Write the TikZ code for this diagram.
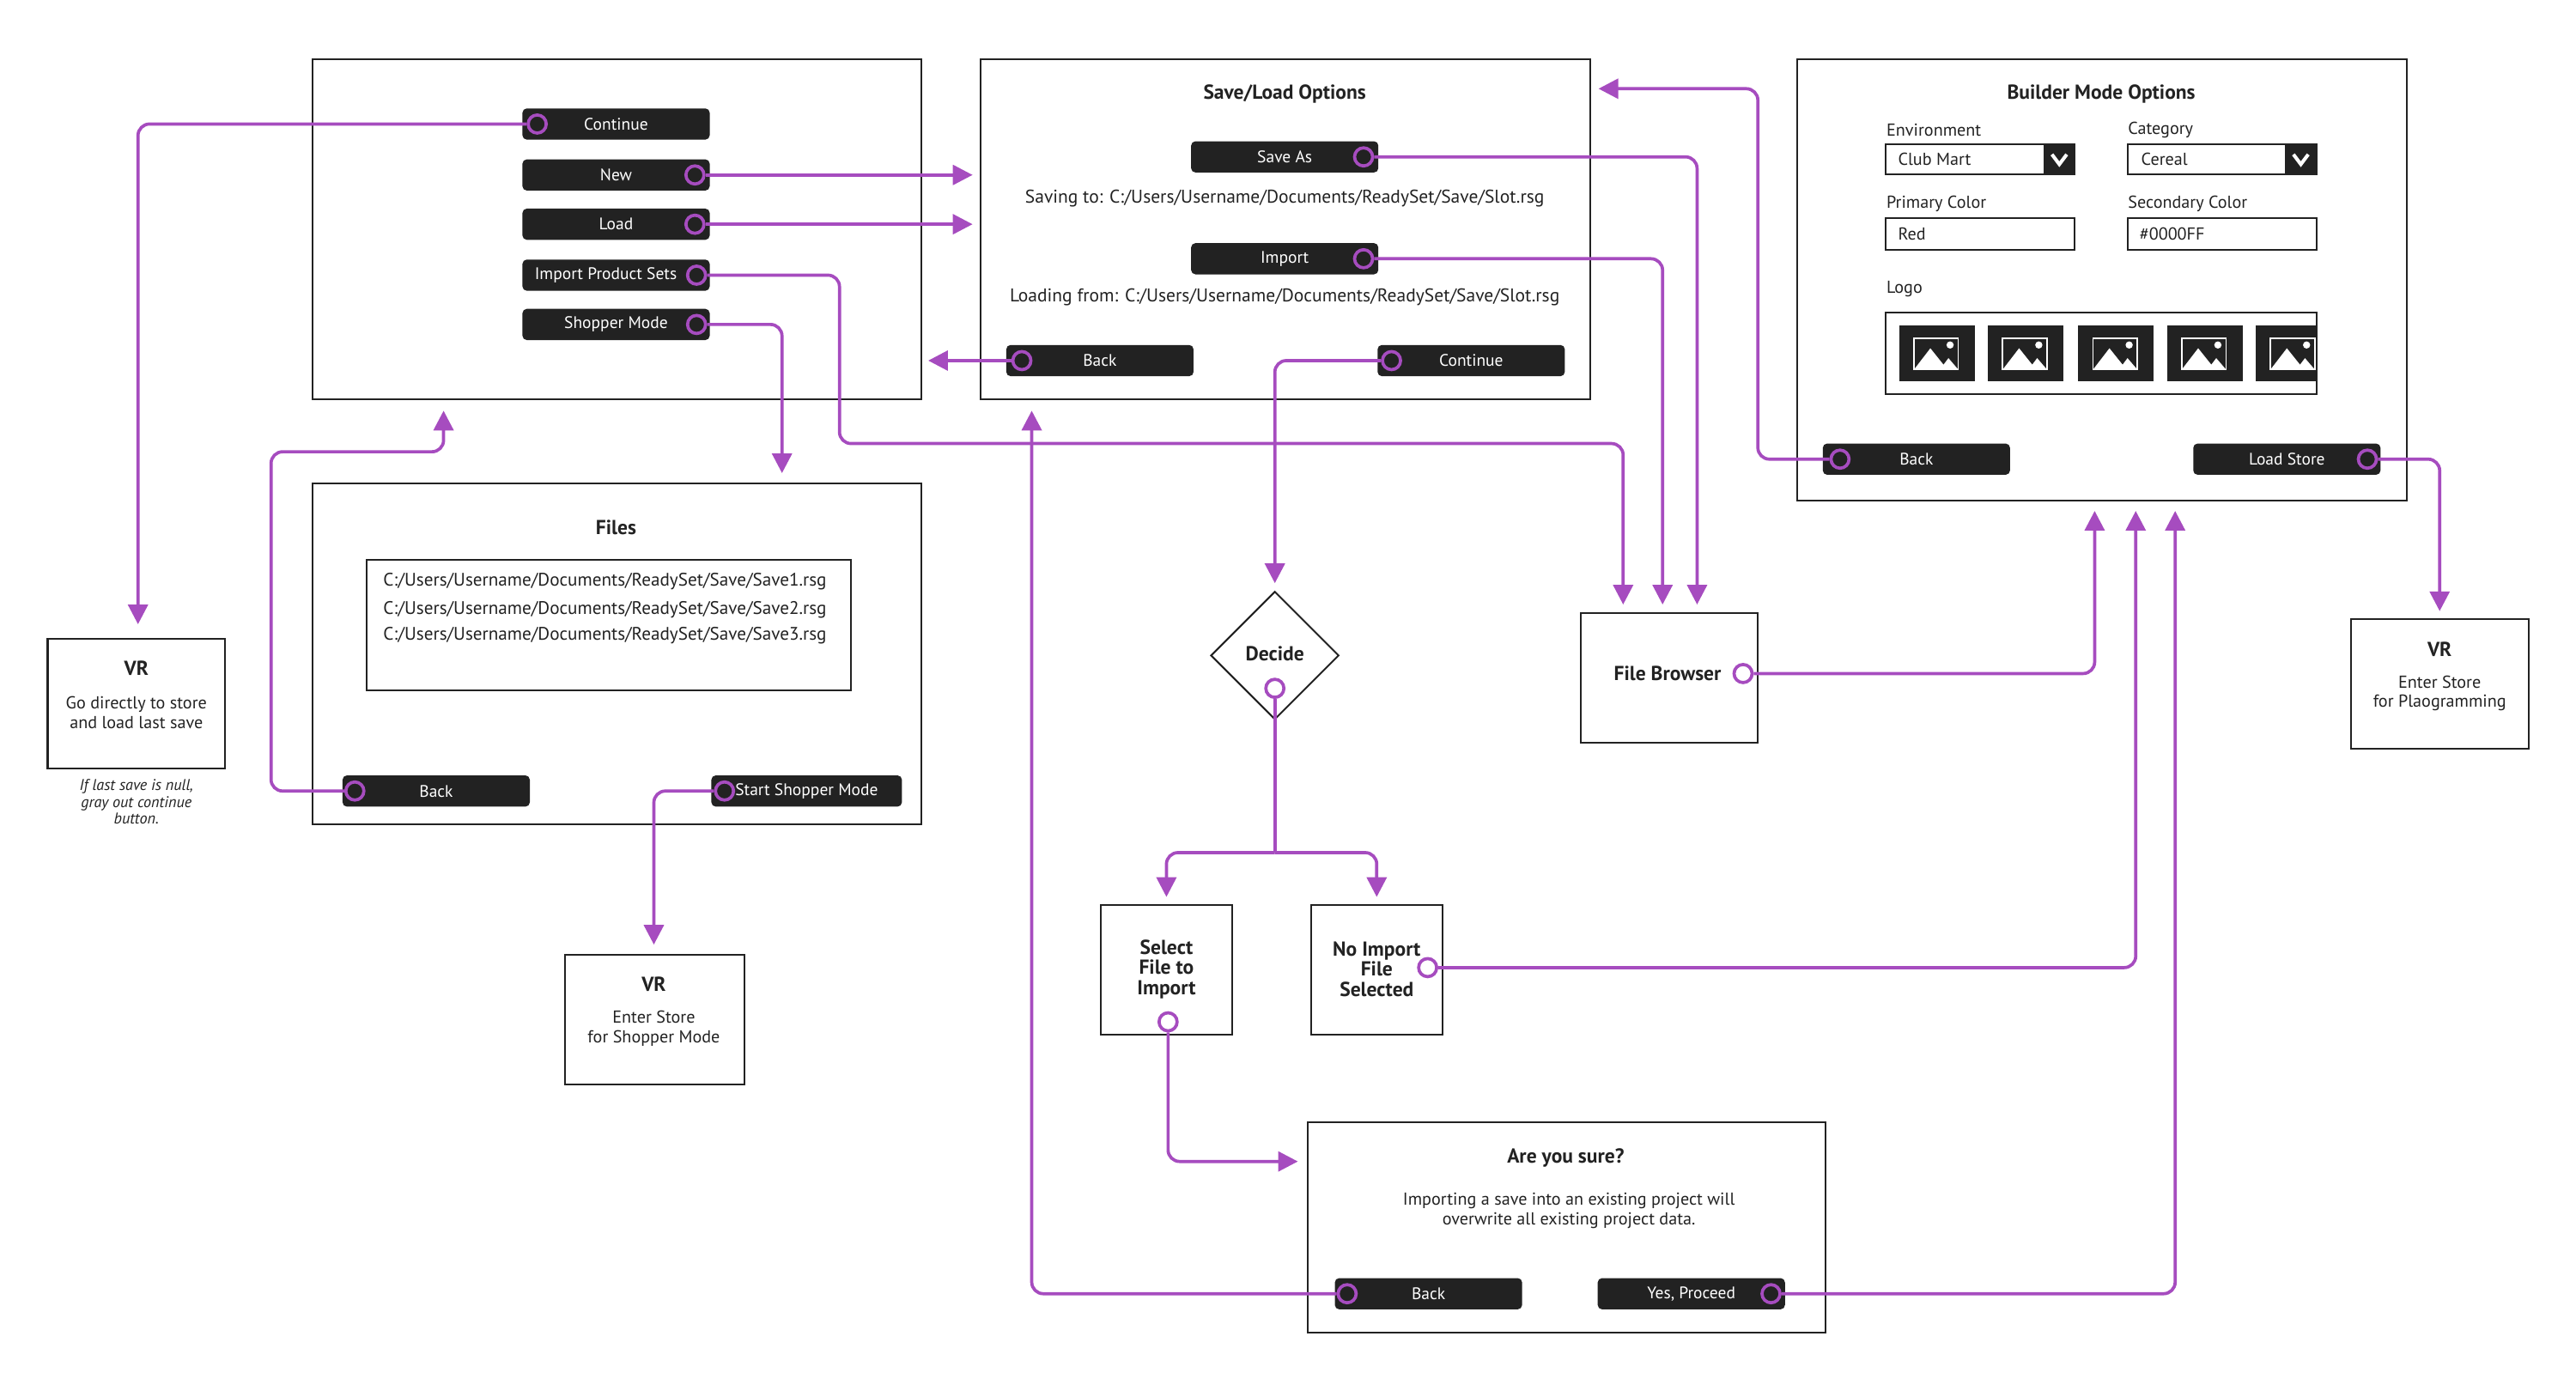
\documentclass[tikz,border=0pt]{standalone}
\usepackage{fontspec}
\setmainfont{PT Sans}
\usetikzlibrary{arrows.meta,shapes.geometric}
\definecolor{pur}{HTML}{A64CBF}
\definecolor{dk}{HTML}{222222}
\begin{document}
\begin{tikzpicture}[x=0.02cm,y=-0.02cm,
 box/.style={draw=dk,line width=0.6pt},
 btn/.style={fill=dk,rounded corners=1.5pt,minimum width=2.28cm,minimum height=0.38cm,text=white,font=\fontsize{5.8}{6}\selectfont,inner sep=0},
 ring/.style={circle,draw=pur,line width=1.1pt,minimum size=0.22cm,inner sep=0},
 link/.style={draw=pur,line width=1.1pt,rounded corners=4pt,-{Triangle[length=0.24cm,width=0.24cm]}},
 ttl/.style={font=\fontsize{7}{8}\selectfont\bfseries,text=dk},
 txt/.style={font=\fontsize{6}{6.8}\selectfont,text=dk,align=center},
 lbl/.style={font=\fontsize{6}{6.8}\selectfont,text=dk,anchor=west,inner sep=0},
 img/.pic={\fill[dk] (0,0) rectangle (46,34);
  \draw[white,line width=0.5pt] (9,8) rectangle (36,27);
  \fill[white] (9,27) -- (19,14) -- (27,24) -- (30,20) -- (36,27) -- cycle;
  \fill[white] (31,12) circle (2.2);}]
\useasboundingbox (0,0) rectangle (1568,846.7);
% ---- main menu
\node[box,minimum width=7.42cm,minimum height=4.14cm] (menu) at (375.5,139.5) {};
\node[btn] (bcont) at (375,75.5) {Continue};
\node[btn] (bnew) at (375,106.5) {New};
\node[btn] (bload) at (375,136.5) {Load};
\node[btn] (bips) at (375,167.5) {\hspace{-0.25cm}Import Product Sets};
\node[btn] (bshop) at (375,197.5) {Shopper Mode};
\node[ring] (rcont) at (327,75.5) {};
\node[ring] (rnew) at (423,106.5) {};
\node[ring] (rload) at (423,136.5) {};
\node[ring] (rips) at (424,167.5) {};
\node[ring] (rshop) at (424,197.5) {};
% ---- save/load
\node[box,minimum width=7.42cm,minimum height=4.14cm] (sl) at (782.5,139.5) {};
\node[ttl] (slt) at (782,57) {Save/Load Options};
\node[btn] (bsave) at (782,95.5) {Save As};
\node[btn] (bimp) at (782,157.5) {Import};
\node[txt,font=\fontsize{6.4}{7}\selectfont] (saving) at (782,121) {Saving to: C:/Users/Username/Documents/ReadySet/Save/Slot.rsg};
\node[txt,font=\fontsize{6.4}{7}\selectfont] (loading) at (782,181) {Loading from: C:/Users/Username/Documents/ReadySet/Save/Slot.rsg};
\node[btn] (bslback) at (669.5,219.5) {Back};
\node[btn] (bslcont) at (895.5,219.5) {Continue};
\node[ring] (rsave) at (830,95.5) {};
\node[ring] (rimp) at (830,157.5) {};
\node[ring] (rslback) at (622,219.5) {};
\node[ring] (rslcont) at (847,219.5) {};
% ---- builder
\node[box,minimum width=7.42cm,minimum height=5.38cm] (bm) at (1279.5,170.5) {};
\node[ttl] (bmt) at (1279,57) {Builder Mode Options};
\node[lbl] (lenv) at (1148,79) {Environment};
\node[lbl] (lcat) at (1295,79) {Category};
\node[lbl] (lpc) at (1148,124) {Primary Color};
\node[lbl] (lsc) at (1295,124) {Secondary Color};
\node[lbl] (llogo) at (1148,176) {Logo};
\draw[box] (1148,88) rectangle (1263,106);
\fill[dk] (1244,88) rectangle (1263,106);
\draw[white,line width=1.2pt] (1249,94) -- (1253.5,100) -- (1258,94);
\node[lbl] (venv) at (1155,97) {Club Mart};
\draw[box] (1295,88) rectangle (1410,106);
\fill[dk] (1391,88) rectangle (1410,106);
\draw[white,line width=1.2pt] (1396,94) -- (1400.5,100) -- (1405,94);
\node[lbl] (vcat) at (1303,97) {Cereal};
\draw[box] (1148,133) rectangle (1263,152);
\node[lbl] (vpc) at (1155,142.5) {Red};
\draw[box] (1295,133) rectangle (1410,152);
\node[lbl] (vsc) at (1302,142.5) {\#0000FF};
\begin{scope}
\clip (1148,190) rectangle (1410,240);
\pic at (1156,198) {img};
\pic at (1210,198) {img};
\pic at (1265,198) {img};
\pic at (1319,198) {img};
\pic at (1373,198) {img};
\end{scope}
\draw[box] (1148,190) rectangle (1410,240);
\node[btn] (bbmback) at (1166.5,279.5) {Back};
\node[btn] (bload2) at (1392,279.5) {Load Store};
\node[ring] (rbmback) at (1120,279.5) {};
\node[ring] (rls) at (1441,279.5) {};
% ---- files
\node[box,minimum width=7.42cm,minimum height=4.16cm] (files) at (375.5,398) {};
\node[ttl] (ft) at (375,321) {Files};
\draw[box] (223,341) rectangle (518,420);
\node[lbl,font=\fontsize{6.3}{7}\selectfont] (f1) at (233,354) {C:/Users/Username/Documents/ReadySet/Save/Save1.rsg};
\node[lbl,font=\fontsize{6.3}{7}\selectfont] (f2) at (233,371) {C:/Users/Username/Documents/ReadySet/Save/Save2.rsg};
\node[lbl,font=\fontsize{6.3}{7}\selectfont] (f3) at (233,387) {C:/Users/Username/Documents/ReadySet/Save/Save3.rsg};
\node[btn] (bfback) at (265.5,481.5) {Back};
\node[btn,minimum width=2.32cm] (bss) at (491,481.5) {Start Shopper Mode};
\node[ring] (rfback) at (216,481.5) {};
\node[ring] (rss) at (441,481.5) {};
% ---- VR boxes
\node[box,minimum width=2.16cm,minimum height=1.58cm] (vr1) at (83,428.5) {};
\node[ttl] (vr1t) at (83,407) {VR};
\node[txt] (vr1x) at (83,434) {Go directly to store\\and load last save};
\node[txt,font=\fontsize{5.4}{5.8}\selectfont\itshape] (note) at (83,488) {If last save is null,\\gray out continue\\button.};
\node[box,minimum width=2.18cm,minimum height=1.58cm] (vr2) at (398.5,620.5) {};
\node[ttl] (vr2t) at (398,599) {VR};
\node[txt] (vr2x) at (398,626) {Enter Store\\for Shopper Mode};
\node[box,minimum width=2.16cm,minimum height=1.58cm] (vr3) at (1485,416.5) {};
\node[ttl] (vr3t) at (1485,395) {VR};
\node[txt] (vr3x) at (1485,422) {Enter Store\\for Plaogramming};
% ---- file browser
\node[box,minimum width=2.16cm,minimum height=1.58cm] (fb) at (1016,412.5) {};
\node[ttl] (fbt) at (1015,410) {File Browser\hspace{0.3cm}};
\node[ring,fill=white] (rfb) at (1061,410) {};
% ---- decide
\node[draw=dk,line width=0.6pt,diamond,minimum width=1.56cm,minimum height=1.56cm,inner sep=0] (dec) at (776,399) {};
\node[ttl] (dect) at (776,398) {Decide};
\node[ring,fill=white] (rdec) at (776,419) {};
% ---- select / no import
\node[box,minimum width=1.6cm,minimum height=1.58cm] (sel) at (710,590.5) {};
\node[ttl,align=center,font=\fontsize{7}{7}\selectfont\bfseries] (selt) at (710,590) {Select\\File to\\Import};
\node[ring,fill=white] (rsel) at (711,622) {};
\node[box,minimum width=1.6cm,minimum height=1.58cm] (noi) at (838,590.5) {};
\node[ttl,align=center,font=\fontsize{7}{7}\selectfont\bfseries] (noit) at (838,590) {No Import\\File\\Selected};
\node[ring,fill=white] (rnoi) at (869,589) {};
% ---- are you sure
\node[box,minimum width=6.3cm,minimum height=2.56cm] (ays) at (953.5,747) {};
\node[ttl] (ayst) at (953,705) {Are you sure?};
\node[txt] (aysx) at (955,737) {Importing a save into an existing project will\\overwrite all existing project data.};
\node[btn] (baysback) at (869.5,787.5) {Back};
\node[btn] (byes) at (1029.5,787.5) {Yes, Proceed};
\node[ring] (raysback) at (820,787.5) {};
\node[ring] (ryes) at (1078,787.5) {};
% ---- targets
\coordinate (t1) at (84,380);
\coordinate (t2) at (592,106.5);
\coordinate (t3) at (592,136.5);
\coordinate (t4) at (988,368);
\coordinate (t5) at (476,288);
\coordinate (t6) at (1033,368);
\coordinate (t7) at (1012,368);
\coordinate (t8) at (565,219.5);
\coordinate (t9) at (776,355);
\coordinate (t10) at (973,54);
\coordinate (t11) at (1485,372);
\coordinate (t12) at (270,250);
\coordinate (t13) at (398,575);
\coordinate (t14) at (1275,311);
\coordinate (t15a) at (710,546);
\coordinate (t15b) at (838,546);
\coordinate (t16) at (790,707);
\coordinate (t17) at (1300,311);
\coordinate (t18) at (1324,311);
\coordinate (t19) at (628,250);
\coordinate (split) at (776,519);
% ---- connectors
\draw[link] (rcont.west) -| (t1);
\draw[link] (rnew.east) -- (t2);
\draw[link] (rload.east) -- (t3);
\draw[link] (rips.east) -- (511,167.5) -- (511,270) -- (988,270) -- (t4);
\draw[link] (rshop.east) -| (t5);
\draw[link] (rsave.east) -| (t6);
\draw[link] (rimp.east) -| (t7);
\draw[link] (rslback.west) -- (t8);
\draw[link] (rslcont.west) -| (t9);
\draw[link] (rbmback.west) -- (1070,279.5) -- (1070,54) -- (t10);
\draw[link] (rls.east) -| (t11);
\draw[link] (rfback.west) -- (165,481.5) -- (165,275) -- (270,275) -- (t12);
\draw[link] (rss.west) -| (t13);
\draw[link] (rfb.east) -| (t14);
\draw[draw=pur,line width=1.1pt] (rdec.south) -- (split);
\draw[link] (split) -| (t15a);
\draw[link] (split) -| (t15b);
\draw[link] (rsel.south) |- (t16);
\draw[link] (rnoi.east) -| (t17);
\draw[link] (ryes.east) -| (t18);
\draw[link] (raysback.west) -| (t19);
\end{tikzpicture}
\end{document}
